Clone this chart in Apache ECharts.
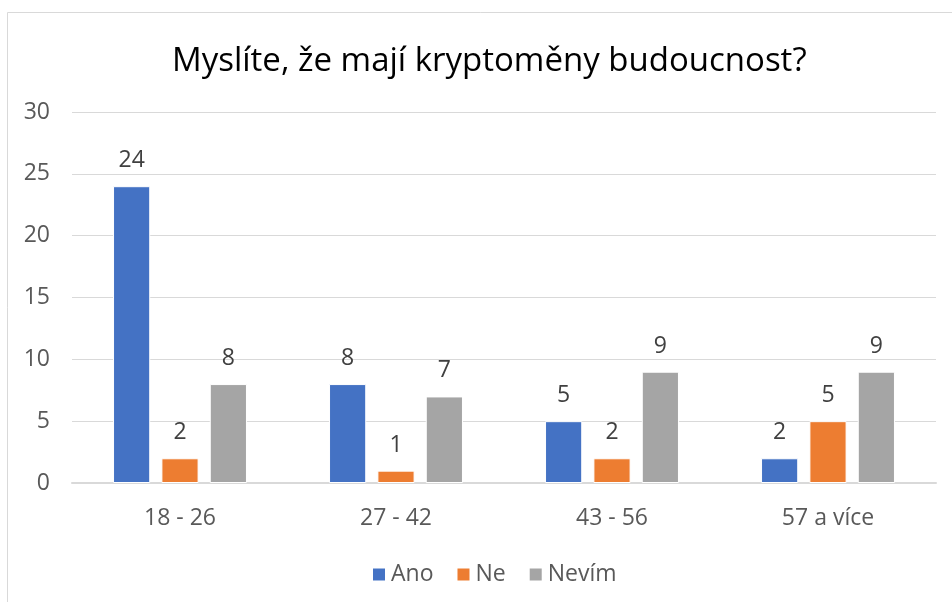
<!DOCTYPE html>
<html><head><meta charset="utf-8">
<script src="https://cdn.jsdelivr.net/npm/echarts@6/dist/echarts.min.js"></script>
<style>html,body{margin:0;padding:0;background:#fff}#c{width:952px;height:602px}</style>
</head><body><div id="c"></div>
<script>
const categories = ['18 - 26', '27 - 42', '43 - 56', '57 a více'];
const ano = [24, 8, 5, 2];
const ne = [2, 1, 2, 5];
const nevim = [8, 7, 9, 9];
const seriesNames = ['Ano', 'Ne', 'Nevím'];
const colors = ['#4472C4', '#ED7D31', '#A5A5A5'];
const font = '"Open Sans", "Liberation Sans", sans-serif';

const chart = echarts.init(document.getElementById('c'), null, {renderer: 'canvas'});
const mk = (name, data, color) => ({
  name, type: 'bar', data,
  itemStyle: {color, borderColor: '#fff', borderWidth: 1},
  barGap: '30%', barCategoryGap: '38%',
  label: {show: true, position: 'top', distance: 14, color: '#404040', fontSize: 23, fontFamily: font}
});
chart.setOption({
  animation: false,
  backgroundColor: '#fff',
  graphic: [{type: 'rect', shape: {x: 7.5, y: 12.5, width: 1000, height: 700}, style: {fill: 'none', stroke: '#d9d9d9', lineWidth: 1}, silent: true, z: -1}],
  title: {text: 'Myslíte, že mají kryptoměny budoucnost?', left: 167, top: 40,
    textStyle: {fontFamily: font, fontSize: 33, fontWeight: 'normal', color: '#000'}},
  legend: {bottom: 11, left: 366, itemWidth: 14, itemHeight: 14, itemGap: 22, icon: 'rect',
    textStyle: {fontFamily: font, fontSize: 23, color: '#595959'}},
  grid: {left: 72, right: 16, top: 112, bottom: 119},
  xAxis: {type: 'category', data: categories,
    axisLine: {lineStyle: {color: '#d9d9d9', width: 2}}, axisTick: {show: false},
    axisLabel: {fontFamily: font, fontSize: 23, color: '#595959', margin: 24}},
  yAxis: {type: 'value', min: 0, max: 30, interval: 5,
    axisLine: {show: false}, axisTick: {show: false},
    splitLine: {lineStyle: {color: '#d9d9d9', width: 1}},
    axisLabel: {fontFamily: font, fontSize: 23, color: '#595959', margin: 22}},
  series: [mk(seriesNames[0], ano, colors[0]), mk(seriesNames[1], ne, colors[1]), mk(seriesNames[2], nevim, colors[2])]
});
</script></body></html>
